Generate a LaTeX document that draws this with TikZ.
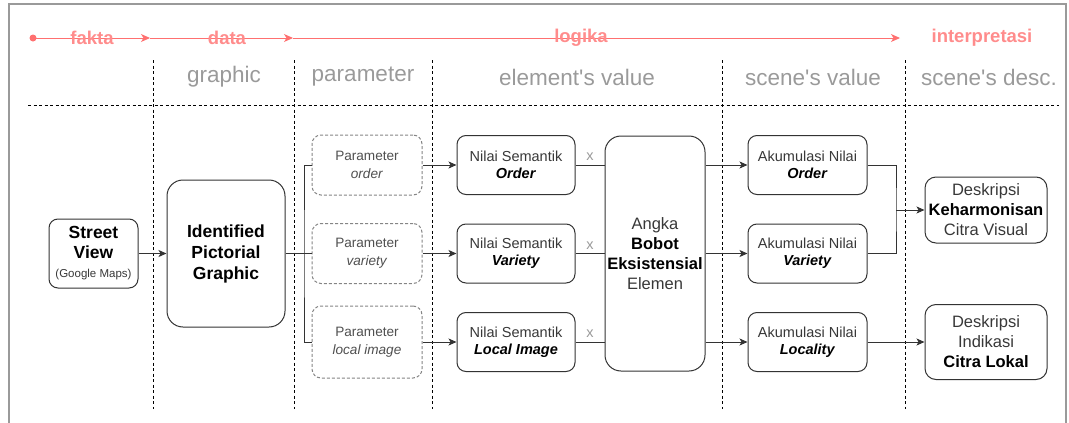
\documentclass[tikz,border=0pt]{standalone}
\usepackage{fontspec}
\setmainfont{Liberation Sans}
\usepackage{tikz}
\usetikzlibrary{arrows.meta}

\definecolor{boxline}{HTML}{333333}
\definecolor{txtgray}{HTML}{383838}
\definecolor{partext}{HTML}{505050}
\definecolor{pardash}{HTML}{858585}
\definecolor{headgray}{HTML}{9A9A9A}
\definecolor{flowred}{HTML}{FF7070}
\definecolor{flowtext}{HTML}{FF8C8C}
\definecolor{framegray}{HTML}{9A9A9A}

\begin{document}
\begin{tikzpicture}[x=1pt,y=-1pt]
  \tikzset{box/.style = {draw=boxline,fill=white,rounded corners=9pt,line width=1pt,align=center,inner sep=1pt,text=txtgray,font=\fontsize{14.5}{17}\selectfont}}
  \tikzset{parbox/.style = {box,draw=pardash,dashed,dash pattern=on 3pt off 2pt,text=partext,font=\fontsize{13.6}{18}\selectfont,minimum width=110pt}}
  \tikzset{bigbox/.style = {box,rounded corners=16pt,text=black,font=\fontsize{16.5}{20}\selectfont}}
  \tikzset{head/.style = {text=headgray,font=\fontsize{22.5}{26}\selectfont}}
  \tikzset{flowlabel/.style = {text=flowtext,font=\bfseries\fontsize{18.5}{22}\selectfont,inner sep=0pt}}
  \tikzset{flow/.style = {draw=flowred,line width=1pt,-{Stealth[length=9pt,width=8pt,inset=2.5pt]}}}
  \tikzset{grid/.style = {black,line width=0.7pt,dash pattern=on 3pt off 2.5pt}}
  \tikzset{link/.style = {boxline,line width=1pt}}
  \tikzset{arr/.style = {link,-{Stealth[length=8pt,width=7pt,inset=2pt]}}}
  \tikzset{xlab/.style = {text=headgray,font=\fontsize{14.5}{16}\selectfont,inner sep=1pt,yshift=3pt}}

	\useasboundingbox (0,0) rectangle (1069,423);
	\draw[framegray,line width=1.3pt] (9,423) -- (9,4) -- (1066,4) -- (1066,423);

	% fakta -> data -> logika -> interpretasi
	\coordinate (t0) at (33,38);
	\coordinate (t1) at (150,38);
	\coordinate (t2) at (293,38);
	\coordinate (t3) at (900,38);
	\fill[flowred] (t0) circle (3.5);
	\draw[flow] (t0) -- (t1);
	\draw[flow] (t2 -| t1) -- (t2);
	\draw[flow] (t2) -- (t3);
	\node[flowlabel] (fakta) at (92,38) {fakta};
	\node[flowlabel] (data) at (227,38) {data};
	\node[flowlabel] (logika) at (581,38) {logika};
	\node[flowlabel] (interp) at (982,38) {interpretasi};

	\node[head] (hGraphic) at (224,77) {graphic};
	\node[head] (hParam) at (363,77) {parameter};
	\node[head] (hElement) at (577,77) {element\textquotesingle s value};
	\node[head] (hScene) at (813,77) {scene\textquotesingle s value};
	\node[head] (hDesc) at (989,77) {scene\textquotesingle s desc.};

	\draw[grid] (28,105) -- (1059,105);
	\foreach \x in {153,294,432,722,905}
		\draw[grid] (\x,60) -- (\x,409);

	\node[box,minimum width=89pt,minimum height=69pt,text=black,font=\bfseries\fontsize{17.5}{20}\selectfont] (sv) at (93.5,253.5)
		{Street\\View\\[-1pt]\textcolor{txtgray}{\mdseries\fontsize{11.5}{13}\selectfont (Google Maps)}};

	\node[bigbox,minimum width=118pt,minimum height=147pt,font=\bfseries\fontsize{17.5}{21}\selectfont] (ipg) at (226,253.5)
		{Identified\\Pictorial\\Graphic};

		\node[parbox,minimum height=60pt] (parO) at (367,165) {Parameter\\\textit{order}};
		\node[parbox,minimum height=60pt] (parV) at (367,253.5) {Parameter\\\textit{variety}};
		\node[parbox,minimum height=72pt] (parL) at (367,342) {Parameter\\\textit{local image}};

		\node[box,minimum width=118pt,minimum height=59pt] (semO) at (516,165) {Nilai Semantik\\\textcolor{black}{\textbf{\textit{Order}}}};
		\node[box,minimum width=118pt,minimum height=59pt] (semV) at (516,253.5) {Nilai Semantik\\\textcolor{black}{\textbf{\textit{Variety}}}};
		\node[box,minimum width=118pt,minimum height=59pt] (semL) at (516,342) {Nilai Semantik\\\textcolor{black}{\textbf{\textit{Local Image}}}};

	\node[bigbox,minimum width=100pt,minimum height=235pt,text=txtgray] (bobot) at (655,253.5)
		{Angka\\\textcolor{black}{\textbf{Bobot}}\\\textcolor{black}{\textbf{Eksistensial}}\\Elemen};

		\node[box,minimum width=119pt,minimum height=59pt] (akO) at (807.5,165) {Akumulasi Nilai\\\textcolor{black}{\textbf{\textit{Order}}}};
		\node[box,minimum width=119pt,minimum height=59pt] (akV) at (807.5,253.5) {Akumulasi Nilai\\\textcolor{black}{\textbf{\textit{Variety}}}};
		\node[box,minimum width=119pt,minimum height=59pt] (akL) at (807.5,342) {Akumulasi Nilai\\\textcolor{black}{\textbf{\textit{Locality}}}};

	\node[bigbox,minimum width=122pt,minimum height=66pt,rounded corners=11pt,text=txtgray] (deskH) at (986,210)
		{Deskripsi\\\textcolor{black}{\textbf{Keharmonisan}}\\Citra Visual};
	\node[bigbox,minimum width=122pt,minimum height=75pt,rounded corners=11pt,text=txtgray] (deskL) at (986,342)
		{Deskripsi\\Indikasi\\\textcolor{black}{\textbf{Citra Lokal}}};

	\coordinate (fork) at (304,253.5);
	\coordinate (merge) at (896,210);

	\draw[arr] (sv) -- (ipg);
	\draw[link] (ipg) -- (parV);
	\draw[link] (parO.west) -| (fork) |- (parL.west);

    \foreach \from/\to in {parO/semO,parV/semV,parL/semL,akL/deskL}
    \draw[arr] (\from) -- (\to);

    \foreach \row in {semO,semV,semL}
    \draw[link] (\row) -- node[above,xlab] {x} (\row -| bobot.west);

    \foreach \row in {akO,akV,akL}
    \draw[arr] (\row -| bobot.east) -- (\row);

	\draw[link] (akO) -| (merge) |- (akV);
	\draw[arr] (merge) -- (deskH);

\end{tikzpicture}
\end{document}
